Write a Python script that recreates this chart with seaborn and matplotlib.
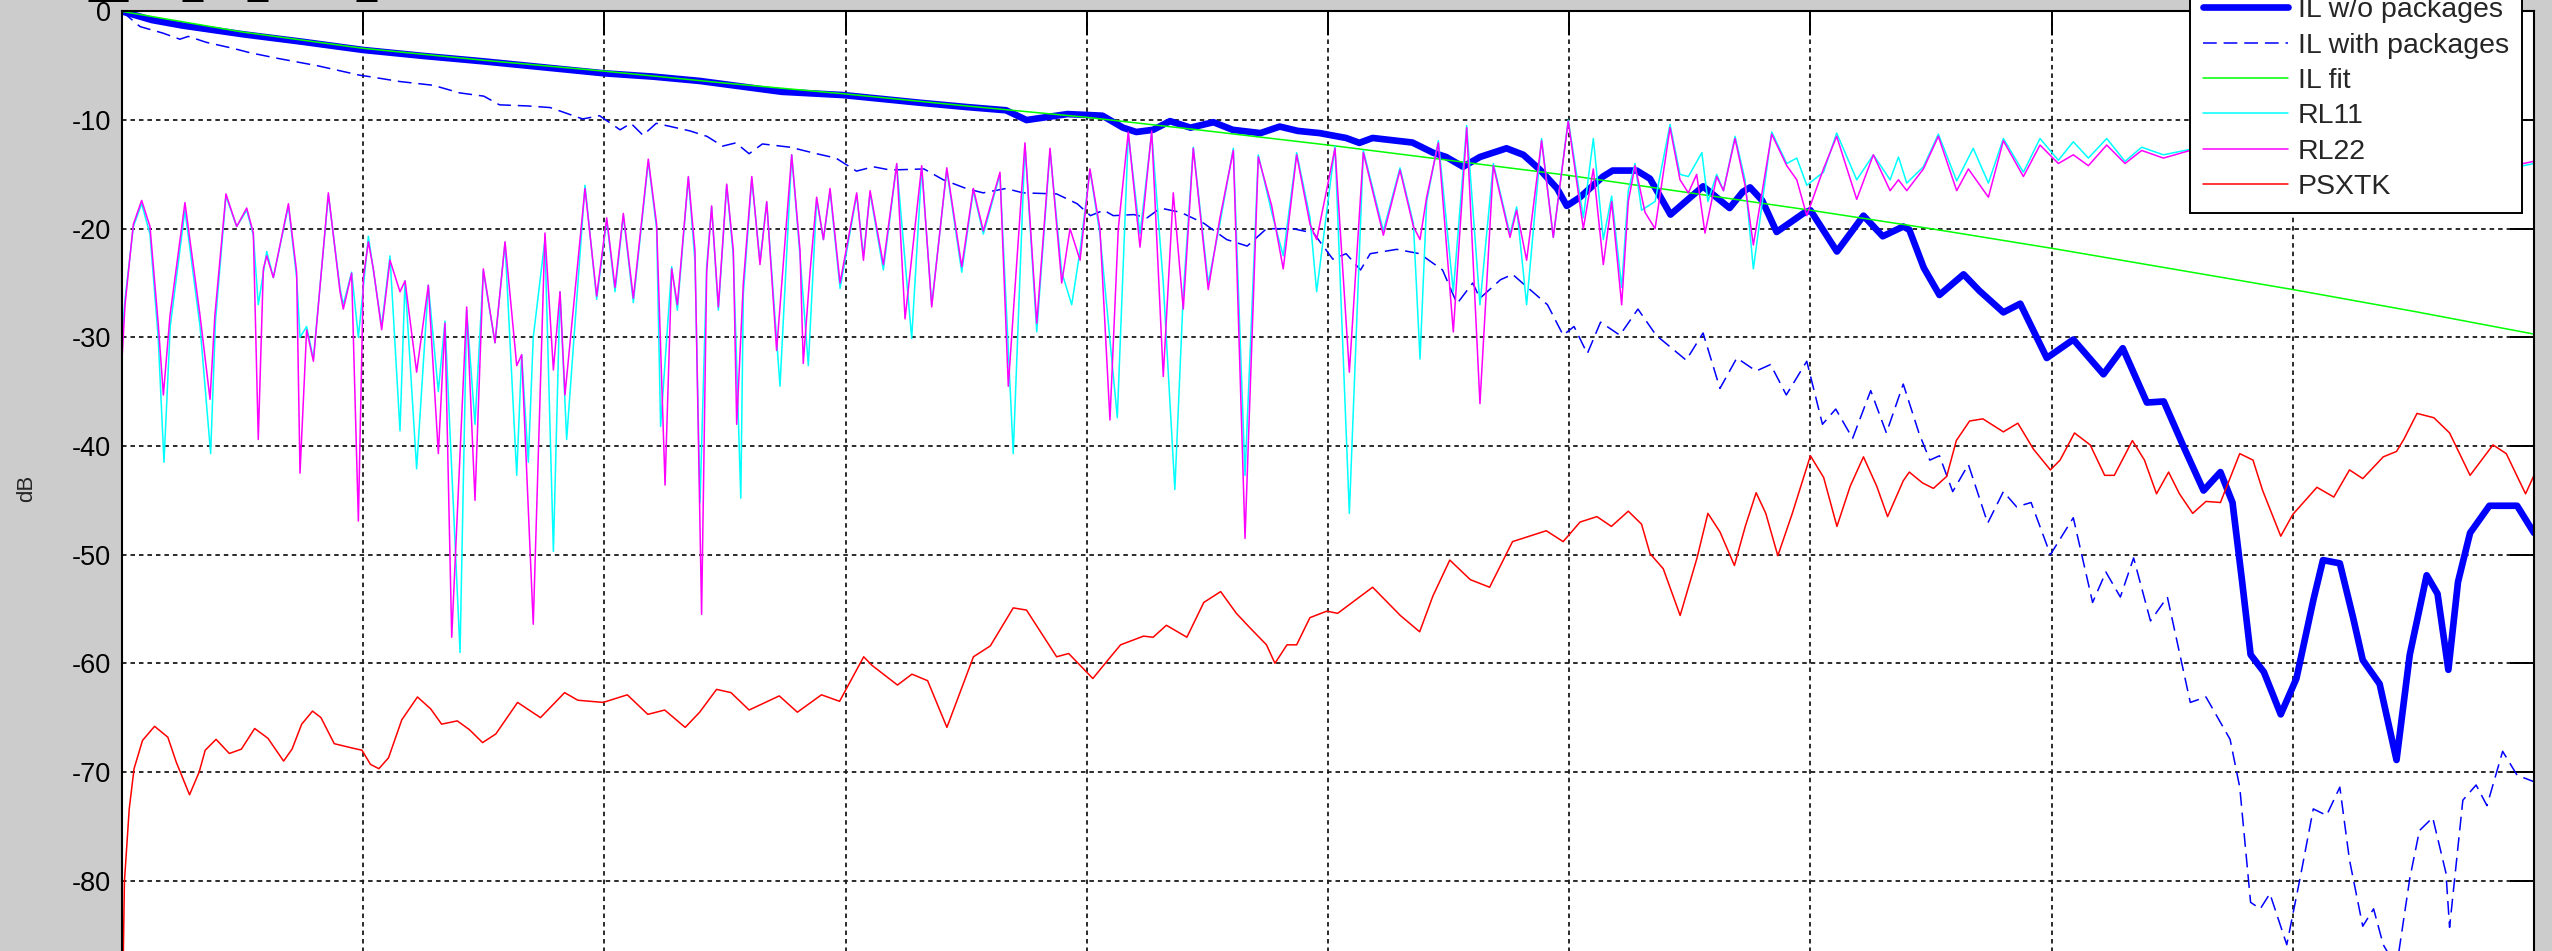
import numpy as np
import matplotlib
matplotlib.use("Agg")
import matplotlib.pyplot as plt
import seaborn as sns

# ---- data (frequency in GHz, level in dB) ----
il_fit_f = [0, 1, 2, 3, 4, 5, 6, 7, 8, 9, 10, 11, 12, 13, 14, 15, 16, 17, 18, 19, 20]
il_fit_db = [0.0, -1.9, -3.4, -4.5, -5.5, -6.6, -7.6, -8.7, -9.75, -11.0, -12.3, -13.7,
             -15.1, -16.7, -18.3, -20.0, -21.8, -23.7, -25.6, -27.6, -29.7]

il_pts = [(0.0, 0.0), (0.25, -0.8), (0.5, -1.3), (1.0, -2.1), (1.5, -2.8), (2.0, -3.55),
          (2.5, -4.1), (3.0, -4.6), (3.5, -5.15), (4.0, -5.7), (4.4, -6.0), (4.79, -6.4),
          (5.47, -7.4), (5.98, -7.7), (6.61, -8.4), (7.0, -8.8), (7.33, -9.1), (7.5, -10.0),
          (7.84, -9.45), (8.13, -9.6), (8.3, -10.7), (8.41, -11.1), (8.55, -10.9), (8.69, -10.1),
          (8.86, -10.7), (9.05, -10.2), (9.21, -10.9), (9.44, -11.2), (9.6, -10.6), (9.75, -11.0),
          (9.93, -11.2), (10.15, -11.65), (10.26, -12.1), (10.37, -11.65), (10.7, -12.07),
          (10.87, -13.0), (10.98, -13.4), (11.12, -14.3), (11.26, -13.4), (11.48, -12.6),
          (11.62, -13.2), (11.76, -14.6), (11.9, -16.3), (11.98, -17.9), (12.09, -17.1),
          (12.28, -15.2), (12.36, -14.65), (12.56, -14.65), (12.67, -15.4), (12.84, -18.7),
          (13.11, -16.1), (13.33, -18.1), (13.44, -16.6), (13.5, -16.2), (13.6, -17.4),
          (13.72, -20.3), (13.94, -18.6), (14.0, -18.3), (14.22, -22.1), (14.44, -18.8),
          (14.6, -20.7), (14.77, -19.8), (14.82, -20.1), (14.94, -23.6), (15.07, -26.1),
          (15.27, -24.2), (15.4, -25.7), (15.6, -27.7), (15.74, -26.9), (15.96, -31.9),
          (16.18, -30.2), (16.43, -33.4), (16.59, -31.0), (16.79, -36.0), (16.93, -35.9),
          (17.1, -40.2), (17.26, -44.1), (17.4, -42.4), (17.5, -45.2), (17.58, -52.5),
          (17.65, -59.2), (17.76, -60.8), (17.9, -64.7), (18.03, -61.4), (18.17, -54.2),
          (18.25, -50.5), (18.39, -50.8), (18.5, -55.8), (18.58, -59.7), (18.72, -61.9),
          (18.86, -68.9), (18.97, -59.2), (19.11, -51.9), (19.2, -53.6), (19.29, -60.6),
          (19.37, -52.5), (19.47, -48.0), (19.63, -45.5), (19.86, -45.5), (20.0, -48.0)]

ilpkg_pts = [(0.0, 0.0), (0.15, -1.4), (0.34, -2.0), (0.48, -2.56), (0.55, -2.3), (0.70, -2.85),
             (0.92, -3.4), (1.06, -3.8), (1.28, -4.3), (1.62, -5.0), (1.97, -5.87), (2.05, -6.0),
             (2.3, -6.45), (2.58, -6.8), (2.8, -7.5), (3.0, -7.8), (3.13, -8.6), (3.36, -8.7),
             (3.55, -8.85), (3.82, -9.9), (3.96, -9.6), (4.13, -10.9), (4.22, -10.3), (4.32, -11.4),
             (4.43, -10.3), (4.55, -10.6), (4.71, -11.0), (4.85, -11.5), (4.98, -12.4), (5.09, -12.1),
             (5.2, -13.1), (5.31, -12.2), (5.54, -12.5), (5.76, -13.1), (5.92, -13.5), (6.09, -14.7),
             (6.23, -14.3), (6.37, -14.6), (6.65, -14.5), (6.81, -15.5), (7.0, -16.3), (7.14, -16.7),
             (7.33, -16.3), (7.47, -16.7), (7.75, -16.8), (7.92, -17.7), (8.03, -18.8), (8.14, -18.3),
             (8.22, -18.8), (8.39, -18.7), (8.5, -19.0), (8.61, -18.1), (8.78, -18.5), (8.97, -19.5),
             (9.16, -21.0), (9.33, -21.6), (9.49, -20.0), (9.71, -20.0), (9.88, -20.4), (10.04, -22.8),
             (10.15, -22.3), (10.27, -23.8), (10.35, -22.3), (10.57, -21.9), (10.76, -22.3),
             (10.95, -23.8), (11.07, -26.9), (11.2, -25.0), (11.26, -26.4), (11.43, -24.7),
             (11.53, -24.2), (11.82, -27.0), (11.95, -29.8), (12.04, -29.0), (12.15, -31.5),
             (12.26, -28.6), (12.42, -29.8), (12.57, -27.4), (12.72, -29.8), (12.97, -32.1),
             (13.11, -29.6), (13.25, -34.7), (13.39, -31.9), (13.55, -33.1), (13.67, -32.5),
             (13.8, -35.3), (13.97, -32.2), (14.1, -38.0), (14.21, -36.6), (14.35, -39.3),
             (14.5, -34.9), (14.63, -38.8), (14.77, -34.3), (14.9, -38.8), (14.99, -41.3),
             (15.07, -40.9), (15.18, -44.2), (15.31, -41.7), (15.47, -47.1), (15.6, -44.2),
             (15.71, -45.6), (15.83, -45.2), (15.99, -50.0), (16.18, -46.6), (16.34, -54.4),
             (16.45, -51.6), (16.57, -53.9), (16.68, -50.3), (16.82, -56.1), (16.96, -53.9),
             (17.15, -63.6), (17.28, -63.1), (17.48, -67.0), (17.56, -71.4), (17.65, -82.0),
             (17.73, -82.6), (17.81, -81.2), (17.95, -85.9), (18.06, -79.8), (18.17, -73.4),
             (18.28, -74.0), (18.39, -71.4), (18.47, -78.1), (18.58, -84.2), (18.67, -82.6),
             (18.75, -85.9), (18.86, -88.0), (18.97, -79.8), (19.05, -75.4), (19.16, -74.2),
             (19.27, -79.3), (19.3, -84.3), (19.41, -72.6), (19.52, -71.2), (19.61, -73.1),
             (19.74, -68.1), (19.86, -70.3), (20.0, -70.9)]

rl11_pts = [(0.0, -30.0), (0.025, -26.5), (0.094, -19.8), (0.163, -17.7), (0.232, -20.5), (0.30, -30.0),
            (0.348, -41.5), (0.40, -29.0), (0.522, -18.3), (0.647, -29.0), (0.735, -40.7), (0.775, -28.5),
            (0.862, -17.0), (0.951, -19.8), (1.034, -18.3), (1.089, -20.6), (1.13, -27.0), (1.2, -22.1),
            (1.255, -24.5), (1.38, -17.9), (1.448, -24.5), (1.476, -30.0), (1.531, -29.0), (1.587, -32.0),
            (1.711, -16.9), (1.808, -25.5), (1.835, -27.0), (1.904, -24.0), (1.96, -30.0), (2.043, -20.7),
            (2.153, -29.0), (2.222, -22.5), (2.305, -38.6), (2.347, -24.8), (2.443, -42.1), (2.54, -25.2),
            (2.623, -35.0), (2.678, -28.5), (2.803, -59.0), (2.858, -27.5), (2.927, -38.0), (2.996, -23.9),
            (3.093, -30.5), (3.176, -21.3), (3.273, -42.7), (3.314, -31.6), (3.369, -41.5), (3.41, -30.0),
            (3.507, -21.0), (3.577, -49.7), (3.632, -25.8), (3.687, -39.4), (3.839, -16.0), (3.936, -26.5),
            (4.019, -19.2), (4.088, -25.8), (4.157, -18.8), (4.24, -26.8), (4.364, -13.8), (4.433, -20.0),
            (4.466, -38.2), (4.558, -23.5), (4.605, -27.5), (4.696, -15.3), (4.751, -23.0), (4.793, -45.2),
            (4.848, -23.5), (4.889, -18.0), (4.945, -27.5), (5.014, -16.0), (5.069, -22.5), (5.131, -44.8),
            (5.152, -26.0), (5.222, -15.4), (5.29, -23.0), (5.346, -17.6), (5.456, -34.5), (5.553, -13.2),
            (5.622, -22.5), (5.691, -32.6), (5.76, -17.3), (5.816, -21.0), (5.871, -16.5), (5.954, -25.5),
            (6.092, -16.9), (6.148, -22.5), (6.203, -16.7), (6.313, -23.8), (6.424, -14.1), (6.548, -30.1),
            (6.631, -14.4), (6.714, -27.0), (6.839, -14.6), (6.963, -24.0), (7.059, -16.5), (7.142, -20.5),
            (7.28, -15.0), (7.39, -40.7), (7.487, -12.3), (7.585, -29.5), (7.695, -12.8), (7.792, -24.0),
            (7.875, -27.0), (7.944, -22.0), (8.026, -14.6), (8.109, -20.5), (8.253, -37.4), (8.344, -11.3),
            (8.441, -20.5), (8.538, -11.2), (8.634, -25.0), (8.73, -44.0), (8.8, -26.0), (8.883, -12.5),
            (9.007, -25.0), (9.104, -19.5), (9.215, -12.6), (9.312, -42.7), (9.422, -13.2), (9.533, -18.5),
            (9.629, -22.5), (9.74, -13.0), (9.851, -19.0), (9.906, -25.8), (10.058, -12.4), (10.177, -46.2),
            (10.293, -12.8), (10.459, -20.2), (10.597, -14.4), (10.708, -19.5), (10.763, -32.0),
            (10.818, -17.5), (10.915, -11.9), (11.039, -25.8), (11.15, -10.5), (11.26, -27.0),
            (11.371, -14.0), (11.509, -20.5), (11.564, -18.0), (11.647, -27.0), (11.771, -11.7),
            (11.868, -20.8), (11.992, -10.0), (12.117, -19.0), (12.2, -11.7), (12.283, -21.0),
            (12.352, -17.0), (12.435, -25.4), (12.49, -16.5), (12.546, -14.0), (12.6, -18.3),
            (12.712, -17.5), (12.836, -10.4), (12.919, -15.0), (12.988, -15.2), (13.1, -13.0),
            (13.15, -17.5), (13.223, -15.0), (13.279, -16.5), (13.375, -11.5), (13.458, -15.5),
            (13.527, -23.7), (13.679, -11.1), (13.804, -14.0), (13.887, -13.5), (13.97, -16.0),
            (14.108, -14.8), (14.218, -11.2), (14.384, -15.5), (14.522, -13.2), (14.661, -15.5),
            (14.73, -13.4), (14.799, -15.8), (14.937, -14.3), (15.061, -11.3), (15.213, -15.6),
            (15.35, -12.6), (15.476, -15.8), (15.6, -11.7), (15.766, -14.8), (15.904, -11.7),
            (16.056, -13.7), (16.18, -12.0), (16.305, -13.5), (16.457, -11.7), (16.609, -13.8),
            (16.747, -12.5), (16.927, -13.2), (17.148, -12.7), (17.5, -12.8), (18.0, -13.2),
            (18.5, -12.8), (19.0, -13.2), (19.5, -12.8), (19.912, -14.2), (20.0, -14.0)]

rl22_pts = [(0.0, -32.0), (0.025, -27.0), (0.094, -19.6), (0.163, -17.4), (0.232, -19.8), (0.30, -28.7),
            (0.343, -35.3), (0.398, -28.0), (0.522, -17.6), (0.647, -28.0), (0.73, -35.7), (0.77, -28.0),
            (0.862, -16.8), (0.951, -19.8), (1.034, -18.1), (1.089, -20.4), (1.13, -39.4), (1.172, -23.7),
            (1.2, -22.5), (1.255, -24.5), (1.38, -17.7), (1.448, -24.0), (1.476, -42.5), (1.531, -29.3),
            (1.587, -32.2), (1.711, -16.7), (1.808, -25.8), (1.835, -27.4), (1.904, -24.1), (1.96, -46.9),
            (2.001, -24.5), (2.043, -21.2), (2.084, -23.7), (2.153, -29.3), (2.222, -22.9), (2.305, -25.8),
            (2.347, -24.8), (2.443, -33.2), (2.54, -25.2), (2.623, -40.7), (2.678, -28.7), (2.734, -57.6),
            (2.858, -27.2), (2.927, -45.0), (2.996, -23.7), (3.093, -30.5), (3.176, -21.2), (3.273, -32.6),
            (3.314, -31.6), (3.41, -56.4), (3.507, -20.4), (3.577, -33.0), (3.632, -25.8), (3.673, -35.3),
            (3.839, -16.3), (3.936, -26.2), (4.019, -19.0), (4.088, -25.4), (4.157, -18.6), (4.24, -26.4),
            (4.364, -13.6), (4.433, -19.6), (4.503, -43.6), (4.558, -23.7), (4.605, -27.0), (4.696, -15.2),
            (4.751, -22.0), (4.806, -55.5), (4.848, -24.0), (4.889, -17.9), (4.945, -27.2), (5.014, -15.9),
            (5.069, -22.0), (5.097, -38.0), (5.152, -25.0), (5.222, -15.2), (5.29, -23.3), (5.346, -17.5),
            (5.428, -31.2), (5.553, -13.2), (5.622, -22.0), (5.649, -32.4), (5.705, -24.0), (5.76, -17.1),
            (5.816, -21.0), (5.871, -16.3), (5.954, -25.0), (6.092, -16.7), (6.148, -22.9), (6.203, -16.5),
            (6.313, -23.3), (6.424, -14.0), (6.493, -28.3), (6.631, -14.2), (6.714, -27.2), (6.839, -14.4),
            (6.963, -23.5), (7.059, -16.3), (7.142, -20.2), (7.28, -14.8), (7.349, -34.5), (7.487, -12.1),
            (7.585, -28.7), (7.695, -12.6), (7.792, -25.0), (7.861, -20.0), (7.944, -22.9), (8.026, -14.5),
            (8.109, -20.0), (8.192, -37.6), (8.261, -20.0), (8.344, -11.1), (8.441, -21.7), (8.538, -11.0),
            (8.634, -33.6), (8.717, -16.7), (8.8, -27.4), (8.883, -12.6), (9.007, -25.6), (9.104, -19.0),
            (9.215, -12.8), (9.312, -48.5), (9.422, -13.4), (9.533, -17.9), (9.629, -23.7), (9.74, -13.2),
            (9.851, -19.6), (9.906, -21.0), (10.058, -12.6), (10.177, -33.2), (10.293, -13.0),
            (10.459, -20.6), (10.597, -14.6), (10.708, -19.8), (10.763, -21.0), (10.818, -17.1),
            (10.915, -12.1), (11.039, -29.5), (11.15, -10.7), (11.26, -36.1), (11.371, -14.2),
            (11.509, -20.8), (11.564, -18.3), (11.647, -22.9), (11.771, -11.9), (11.868, -20.8),
            (11.992, -10.1), (12.117, -20.0), (12.2, -14.5), (12.283, -23.3), (12.352, -17.5),
            (12.435, -27.0), (12.49, -17.5), (12.546, -14.2), (12.629, -18.5), (12.712, -20.0),
            (12.836, -10.7), (12.919, -15.5), (12.988, -16.7), (13.057, -15.0), (13.126, -20.4),
            (13.223, -15.2), (13.279, -16.5), (13.375, -11.7), (13.458, -16.0), (13.527, -21.5),
            (13.679, -11.3), (13.804, -14.2), (13.887, -15.5), (13.97, -18.8), (14.108, -14.5),
            (14.218, -11.5), (14.384, -17.3), (14.522, -13.2), (14.661, -16.5), (14.73, -15.5),
            (14.799, -16.5), (14.937, -14.5), (15.061, -11.5), (15.213, -16.5), (15.31, -14.5),
            (15.476, -17.1), (15.6, -11.9), (15.766, -15.2), (15.904, -12.3), (16.056, -14.0),
            (16.18, -13.2), (16.305, -14.2), (16.457, -12.3), (16.609, -14.0), (16.747, -12.8),
            (16.927, -13.5), (17.148, -12.8), (17.5, -13.0), (18.0, -13.5), (18.5, -13.0),
            (19.0, -13.5), (19.5, -13.0), (19.912, -14.0), (20.0, -13.8)]

psxtk_pts = [(0.0, -95.0), (0.02, -80.1), (0.06, -73.4), (0.1, -69.7), (0.17, -67.1), (0.27, -65.8),
             (0.38, -66.8), (0.45, -69.1), (0.56, -72.1), (0.64, -70.0), (0.69, -68.0), (0.78, -67.0),
             (0.89, -68.3), (0.99, -67.9), (1.10, -66.0), (1.21, -66.9), (1.34, -69.0), (1.41, -67.9),
             (1.49, -65.6), (1.58, -64.4), (1.65, -65.0), (1.76, -67.4), (1.91, -67.8), (1.99, -68.0),
             (2.06, -69.3), (2.13, -69.7), (2.21, -68.7), (2.32, -65.2), (2.45, -63.1), (2.56, -64.2),
             (2.65, -65.6), (2.78, -65.3), (2.88, -66.1), (2.99, -67.3), (3.10, -66.5), (3.28, -63.6),
             (3.47, -65.0), (3.67, -62.7), (3.78, -63.4), (3.99, -63.6), (4.19, -62.9), (4.36, -64.7),
             (4.50, -64.3), (4.67, -65.9), (4.79, -64.5), (4.93, -62.4), (5.05, -62.7), (5.2, -64.3),
             (5.45, -63.0), (5.6, -64.5), (5.8, -62.9), (5.95, -63.5), (6.15, -59.4), (6.22, -60.2),
             (6.43, -62.0), (6.55, -61.0), (6.68, -61.6), (6.84, -65.9), (7.06, -59.4), (7.2, -58.4),
             (7.39, -54.9), (7.5, -55.1), (7.75, -59.4), (7.85, -59.1), (8.05, -61.4), (8.19, -59.5),
             (8.28, -58.3), (8.47, -57.5), (8.55, -57.6), (8.66, -56.5), (8.83, -57.6), (8.97, -54.4),
             (9.11, -53.4), (9.24, -55.4), (9.35, -56.7), (9.49, -58.3), (9.56, -60.0), (9.66, -58.3),
             (9.74, -58.3), (9.85, -55.8), (9.99, -55.2), (10.08, -55.4), (10.37, -53.0), (10.6, -55.6),
             (10.76, -57.1), (10.87, -53.8), (11.01, -50.5), (11.18, -52.3), (11.34, -53.0), (11.53, -48.8),
             (11.81, -47.8), (11.95, -48.8), (12.09, -47.0), (12.23, -46.5), (12.35, -47.4), (12.49, -46.0),
             (12.6, -47.2), (12.67, -49.9), (12.78, -51.3), (12.92, -55.6), (13.06, -50.3), (13.15, -46.2),
             (13.25, -47.9), (13.37, -51.0), (13.46, -47.4), (13.55, -44.3), (13.63, -46.2), (13.73, -50.1),
             (13.85, -46.2), (14.0, -40.9), (14.11, -42.9), (14.22, -47.4), (14.33, -43.7), (14.44, -41.0),
             (14.55, -43.7), (14.64, -46.5), (14.77, -43.2), (14.82, -42.4), (14.93, -43.4), (15.02, -43.9),
             (15.13, -42.8), (15.21, -39.5), (15.32, -37.7), (15.43, -37.5), (15.6, -38.7), (15.72, -37.9),
             (15.85, -40.3), (15.99, -42.2), (16.07, -41.3), (16.19, -38.8), (16.32, -39.9), (16.44, -42.7),
             (16.52, -42.7), (16.67, -39.5), (16.77, -41.3), (16.87, -44.4), (16.97, -42.4), (17.06, -44.4),
             (17.17, -46.2), (17.28, -45.1), (17.4, -45.2), (17.56, -40.7), (17.67, -41.3), (17.75, -44.1),
             (17.9, -48.3), (18.0, -46.3), (18.2, -43.8), (18.34, -44.7), (18.47, -42.2), (18.58, -43.0),
             (18.75, -41.0), (18.86, -40.5), (18.92, -39.4), (19.03, -37.0), (19.17, -37.4), (19.3, -38.8),
             (19.47, -42.7), (19.66, -39.9), (19.77, -40.7), (19.93, -44.4), (20.0, -42.7)]

y_ticks = [0, -10, -20, -30, -40, -50, -60, -70, -80]
x_ticks = [0, 2, 4, 6, 8, 10, 12, 14, 16, 18, 20]

# ---- style ----
sns.set_style("white")
plt.rcParams['font.family'] = ['Liberation Sans', 'DejaVu Sans']
plt.rcParams['axes.unicode_minus'] = False

W, H = 2552, 951
fig = plt.figure(figsize=(W / 100, H / 100), dpi=100)
fig.patch.set_facecolor('#cccccc')

# axes: 0 dB at y=11.4 px, 10.865 px per dB, x from 122 to 2534 px
px_db = 10.865
ax_h = 90 * px_db
ax = fig.add_axes([122 / W, 1 - (11.4 + ax_h) / H, 2412 / W, ax_h / H])
ax.set_facecolor('white')


def unzip(pts):
    a = np.array(pts)
    return a[:, 0], a[:, 1]


thin = 1.1
f, d = unzip(il_pts)
sns.lineplot(x=f, y=d, ax=ax, color='#0000ff', lw=4.8, label='IL w/o packages',
             estimator=None, sort=False)
f, d = unzip(ilpkg_pts)
sns.lineplot(x=f, y=d, ax=ax, color='#0000ff', lw=thin, label='IL with packages',
             estimator=None, sort=False, linestyle=(0, (9, 4.5)))
sns.lineplot(x=il_fit_f, y=il_fit_db, ax=ax, color='#00ff00', lw=thin, label='IL fit',
             estimator=None, sort=False)
f, d = unzip(rl11_pts)
sns.lineplot(x=f, y=d, ax=ax, color='#00ffff', lw=thin, label='RL11',
             estimator=None, sort=False)
f, d = unzip(rl22_pts)
sns.lineplot(x=f, y=d, ax=ax, color='#ff00ff', lw=thin, label='RL22',
             estimator=None, sort=False)
f, d = unzip(psxtk_pts)
sns.lineplot(x=f, y=d, ax=ax, color='#ff0000', lw=thin, label='PSXTK',
             estimator=None, sort=False)

ax.set_xlim(0, 20)
ax.set_ylim(-90, 0)
ax.set_xticks(x_ticks)
ax.set_yticks(y_ticks)
ax.grid(True, color='#1a1a1a', linestyle=(0, (2.5, 2.2)), linewidth=1.3)
ax.set_axisbelow(True)
ax.tick_params(direction='in', length=17, width=1.4, top=True, right=True,
               labelsize=19.5, pad=8, colors='black')
# x tick labels sit below the cropped bottom edge of the picture
ax.tick_params(axis='x', labelbottom=False)
for s in ax.spines.values():
    s.set_visible(True)
    s.set_color('black')
    s.set_linewidth(1.5)

ax.set_xlabel('')
ax.set_ylabel('dB', fontsize=16)
ax.yaxis.set_label_coords(-0.0352, 0.5126)

handles, labels = ax.get_legend_handles_labels()
leg = ax.legend(handles, labels, loc='lower right', bbox_to_anchor=(19.9, -18.55),
                bbox_transform=ax.transData, borderaxespad=0, fontsize=20.5, frameon=True,
                fancybox=False, edgecolor='black', framealpha=1, handlelength=2.98,
                handletextpad=0.35, labelspacing=0.33, borderpad=0.45)
leg.get_frame().set_linewidth(1.4)

# bottom of the cropped title above the plot
for xl, s in [(89, '__'), (183, '_'), (248, '_'), (357, '_')]:
    fig.text(xl / W, 1 + 4.5 / H, s, fontsize=26, va='baseline', ha='left', color='black')

fig.savefig('out.png', dpi=100, facecolor=fig.get_facecolor())
